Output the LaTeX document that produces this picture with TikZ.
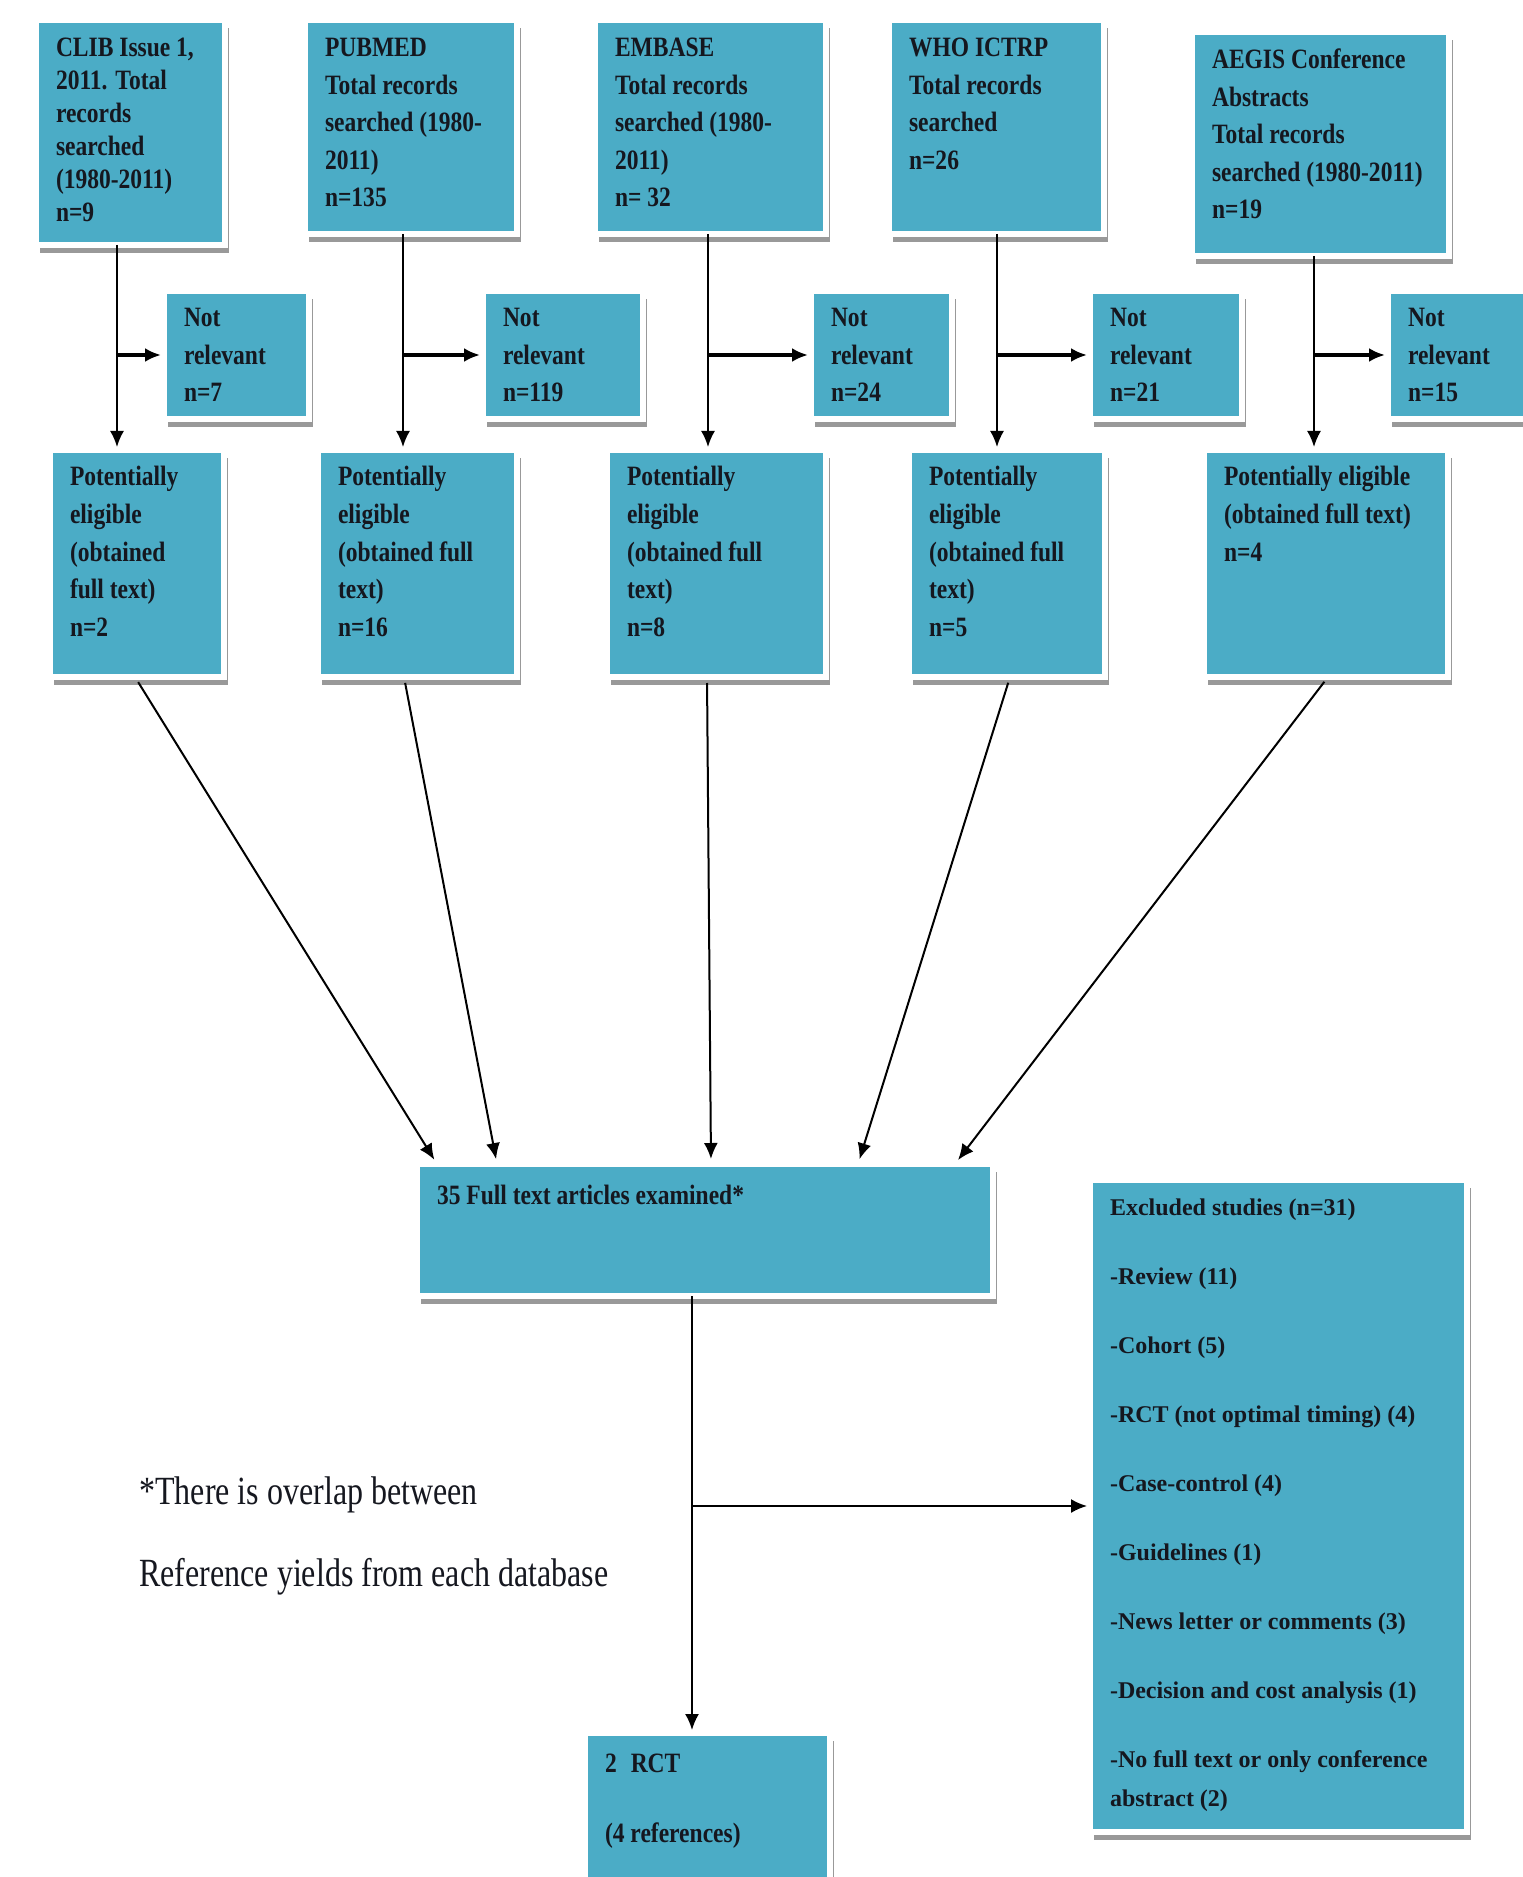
\documentclass[tikz,border=0pt]{standalone}
\usepackage{fontspec}
\setmainfont{Liberation Serif}
\newfontfamily\cond{Liberation Serif}[FakeStretch=0.84]
\newfontfamily\condr{Liberation Serif}[FakeStretch=0.8]
\usetikzlibrary{arrows.meta,shadows}
\definecolor{boxblue}{HTML}{4BACC6}
\definecolor{ink}{HTML}{15171F}
\newdimen\pxu \pxu=0.5pt
% #1 width px, #2 height px, #3 first baseline px, #4 baselineskip, #5 text
\newcommand\bx[5]{\parbox[t][#2\pxu][t]{#1\pxu}{\leftskip=20\pxu\rightskip=0pt plus 1fil\parfillskip=0pt plus 1fil\baselineskip=#4\noindent\rule{0pt}{#3\pxu}#5\par}}
\tikzset{
  box/.style={fill=boxblue, draw=white, line width=3pt, inner sep=0pt, outer sep=0pt,
    anchor=north west, text=ink, font=\cond\bfseries\fontsize{14}{18.75}\selectfont,
    drop shadow={shadow xshift=1.8pt, shadow yshift=-4pt, fill=black!40, opacity=1}},
  exbox/.style={box, font=\bfseries\fontsize{12}{19.5}\selectfont},
  note/.style={anchor=base west, inner sep=0pt, text=ink, font=\condr\fontsize{20}{24}\selectfont},
  arr/.style={draw=black, line width=1pt, -{Latex[length=8pt,width=7pt]}},
  arrh/.style={arr, line width=1.6pt}
}
\begin{document}
\begin{tikzpicture}[x=0.5pt, y=-0.5pt]
\fill[white] (0,0) rectangle (1522,1877);
\useasboundingbox (0,0) rectangle (1522,1877);

% top row
\node[box] (clib) at (36,20) {\bx{189}{225}{37}{16.5pt}{CLIB Issue 1,\\2011. Total\\records\\searched\\(1980-2011)\\n=9}};
\node[box] (pubmed) at (305,20) {\bx{212}{214}{37}{18.75pt}{PUBMED\\Total records\\searched (1980-\\2011)\\n=135}};
\node[box] (embase) at (595,20) {\bx{231}{214}{37}{18.75pt}{EMBASE\\Total records\\searched (1980-\\2011)\\n= 32}};
\node[box] (who) at (889,20) {\bx{215}{214}{37}{18.75pt}{WHO ICTRP\\Total records\\searched\\n=26}};
\node[box] (aegis) at (1192,32) {\bx{257}{224}{37}{18.75pt}{AEGIS Conference\\Abstracts\\Total records\\searched (1980-2011)\\n=19}};

% not relevant row
\node[box] (nr1) at (164,291) {\bx{145}{128}{36}{18.75pt}{Not\\relevant\\n=7}};
\node[box] (nr2) at (483,291) {\bx{160}{128}{36}{18.75pt}{Not\\relevant\\n=119}};
\node[box] (nr3) at (811,291) {\bx{141}{128}{36}{18.75pt}{Not\\relevant\\n=24}};
\node[box] (nr4) at (1090,291) {\bx{152}{128}{36}{18.75pt}{Not\\relevant\\n=21}};
\node[box] (nr5) at (1388,291) {\bx{150}{128}{36}{18.75pt}{Not\\relevant\\n=15}};

% potentially eligible row
\node[box] (pe1) at (50,450) {\bx{174}{227}{36}{18.75pt}{Potentially\\eligible\\(obtained\\full text)\\n=2}};
\node[box] (pe2) at (318,450) {\bx{199}{227}{36}{18.75pt}{Potentially\\eligible\\(obtained full\\text)\\n=16}};
\node[box] (pe3) at (607,450) {\bx{219}{227}{36}{18.75pt}{Potentially\\eligible\\(obtained full\\text)\\n=8}};
\node[box] (pe4) at (909,450) {\bx{196}{227}{36}{18.75pt}{Potentially\\eligible\\(obtained full\\text)\\n=5}};
\node[box] (pe5) at (1204,450) {\bx{244}{227}{36}{18.75pt}{Potentially eligible\\(obtained full text)\\n=4}};

% lower part
\node[box] (ft) at (417,1164) {\bx{576}{132}{40}{18.75pt}{35 Full text articles examined*}};
\node[exbox] (ex) at (1090,1180) {\bx{377}{652}{35}{19.5pt}{Excluded studies (n=31)\\[15pt]-Review (11)\\[15pt]-Cohort (5)\\[15pt]-RCT (not optimal timing) (4)\\[15pt]-Case-control (4)\\[15pt]-Guidelines (1)\\[15pt]-News letter or comments (3)\\[15pt]-Decision and cost analysis (1)\\[15pt]-No full text or only conference\\abstract (2)}};
\node[box] (rct) at (585,1733) {\bx{245}{160}{39}{35pt}{2\enspace RCT\\(4 references)}};

\node[note] (note1) at (139,1504) {*There is overlap between};
\node[note] (note2) at (139,1586) {Reference yields from each database};

% connector x positions
\coordinate (v1) at (117,0);
\coordinate (v2) at (403,0);
\coordinate (v3) at (708,0);
\coordinate (v4) at (997,0);
\coordinate (v5) at (1314,0);
\foreach \i/\t in {1/clib,2/pubmed,3/embase,4/who,5/aegis}{
  \draw[arr, shorten >=1.5pt] (\t.south -| v\i) -- (pe\i.north -| v\i);
  \draw[arrh, shorten >=1.5pt] (v\i |- nr\i.west) -- (nr\i.west);
}

\coordinate (s1) at (135,0);  \coordinate (e1) at (437,0);
\coordinate (s2) at (404,0);  \coordinate (e2) at (497,0);
\coordinate (s3) at (707,0);  \coordinate (e3) at (711,0);
\coordinate (s4) at (1010,0); \coordinate (e4) at (858,0);
\coordinate (s5) at (1328,0); \coordinate (e5) at (955,0);
\foreach \i in {1,...,5}{
  \draw[arr, shorten <=3pt, shorten >=2.5pt] (pe\i.south -| s\i) -- (ft.north -| e\i);
}

\coordinate (w) at (692,0);
\draw[arr, shorten >=1.5pt] (ft.south -| w) -- (rct.north -| w);
\draw[arr, shorten >=1.5pt] (w |- ex.west) -- (ex.west);
\end{tikzpicture}
\end{document}
